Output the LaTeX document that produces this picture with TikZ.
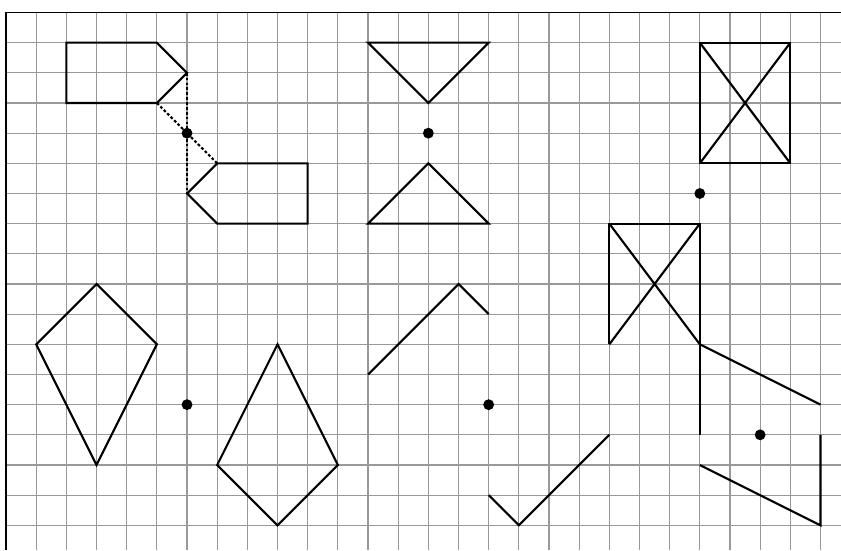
\documentclass[tikz,border=0pt]{standalone}
\usepackage{tikz}
\usetikzlibrary{positioning}

\begin{document}
\begin{tikzpicture}[x=1cm, y=-1cm, line join=miter]
        \tikzstyle{gridline} = [draw=black!40, line width=1.1pt]
        \tikzstyle{frame} = [draw=black, line width=1.5pt]
        \tikzstyle{figline} = [draw=black, line width=2pt]
        \tikzstyle{guide} = [draw=black, line width=2pt, dash pattern=on 2.6pt off 2pt]
        \tikzstyle{centre} = [circle, fill=black, inner sep=0pt, minimum size=0.36cm]

        \useasboundingbox (-0.2,-0.415) rectangle (27.68,17.83);

        % grid
        \foreach \i in {1,...,27} \draw [gridline] (\i,0) -- (\i,17.83);
        \foreach \j in {1,...,17} \draw [gridline] (0,\j) -- (27.68,\j);
        \draw [frame] (27.68,0) -- (0,0) -- (0,17.83);

        % centres of symmetry
        \node [centre] (oa) at (6,4) {};
        \node [centre] (ob) at (14,4) {};
        \node [centre] (oc) at (23,6) {};
        \node [centre] (od) at (6,13) {};
        \node [centre] (oe) at (16,13) {};
        \node [centre] (of) at (25,14) {};

        % arrow shape and its image
        \coordinate (a1) at (2,1); \coordinate (a2) at (5,1); \coordinate (a3) at (6,2);
        \coordinate (a4) at (5,3); \coordinate (a5) at (2,3);
        \coordinate (b1) at (10,7); \coordinate (b2) at (7,7); \coordinate (b3) at (6,6);
        \coordinate (b4) at (7,5); \coordinate (b5) at (10,5);
        \draw [figline] (a1) -- (a2) -- (a3) -- (a4) -- (a5) -- cycle;
        \draw [figline] (b1) -- (b2) -- (b3) -- (b4) -- (b5) -- cycle;
        \draw [guide] (a3) -- (oa) -- (b3);
        \draw [guide] (a4) -- (oa) -- (b4);

        % triangles
        \draw [figline] (12,1) -- (16,1) -- (14,3) -- cycle;
        \draw [figline] (14,5) -- (16,7) -- (12,7) -- cycle;

        % rectangles with diagonals
        \draw [figline] (23,1) rectangle (26,5);
        \draw [figline] (23,1) -- (26,5) (26,1) -- (23,5);
        \draw [figline] (20,11) -- (20,7) -- (23,7) -- (23,14);
        \draw [figline] (20,7) -- (23,11) (23,7) -- (20,11);

        % kites
        \draw [figline] (3,9) -- (5,11) -- (3,15) -- (1,11) -- cycle;
        \draw [figline] (9,11) -- (11,15) -- (9,17) -- (7,15) -- cycle;

        % open broken lines
        \draw [figline] (12,12) -- (15,9) -- (16,10);
        \draw [figline] (20,14) -- (17,17) -- (16,16);

        % half drawn figure
        \draw [figline] (27,13) -- (23,11);
        \draw [figline] (23,15) -- (27,17) -- (27,14);
    \end{tikzpicture}
\end{document}
